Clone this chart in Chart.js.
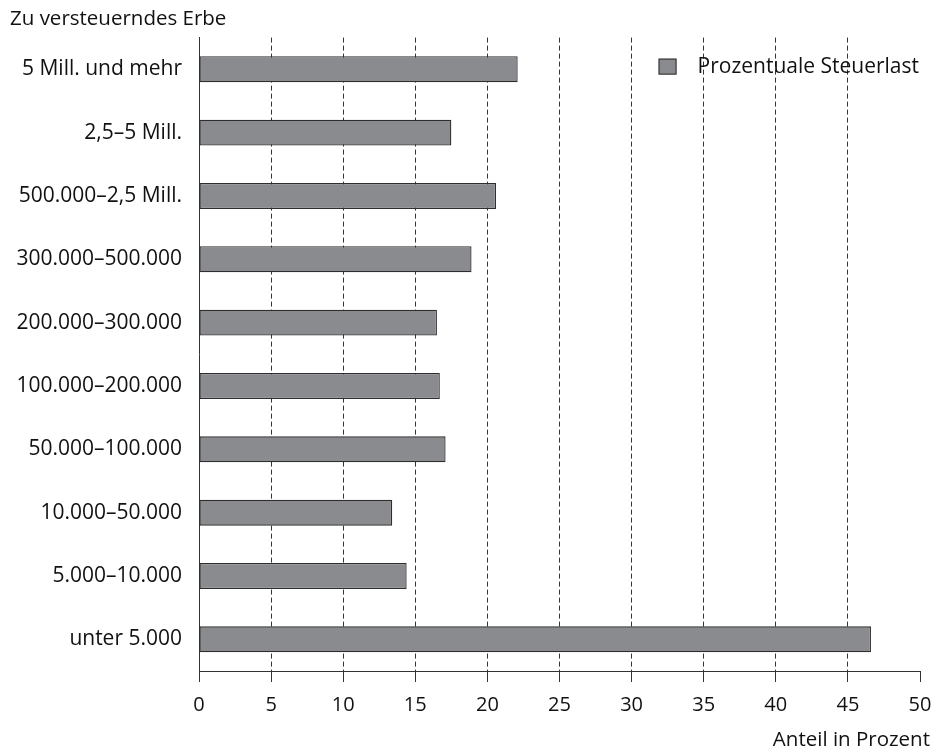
<!DOCTYPE html>
<html>
<head>
<meta charset="utf-8">
<script src="https://cdn.jsdelivr.net/npm/chart.js@4"></script>
<style>
  html, body { margin: 0; padding: 0; background: #fff; }
  #wrap { width: 935px; height: 752px; }
</style>
</head>
<body>
<div id="wrap"><canvas id="c" width="935" height="752"></canvas></div>
<script>
const categories = [
  "5 Mill. und mehr",
  "2,5–5 Mill.",
  "500.000–2,5 Mill.",
  "300.000–500.000",
  "200.000–300.000",
  "100.000–200.000",
  "50.000–100.000",
  "10.000–50.000",
  "5.000–10.000",
  "unter 5.000"
];
const steuerlast = [22.1, 17.5, 20.6, 18.9, 16.5, 16.7, 17.1, 13.4, 14.4, 46.6];
const seriesName = "Prozentuale Steuerlast";
const yTitle = "Zu versteuerndes Erbe";
const xTitle = "Anteil in Prozent";
const xMin = 0, xMax = 50, xStep = 5;

const FONT = "'Open Sans', 'Noto Sans', sans-serif";
const INK = "#111111";

const legendPlugin = {
  id: 'insideLegend',
  afterDraw(chart) {
    const ctx = chart.ctx;
    const ds = chart.data.datasets[0];
    const area = chart.chartArea;
    ctx.save();
    ctx.font = "21px " + FONT;
    ctx.textBaseline = 'middle';
    ctx.textAlign = 'right';
    const right = area.right - 1;
    const cy = area.top + 29;
    const tw = ctx.measureText(ds.label).width;
    ctx.fillStyle = INK;
    ctx.fillText(ds.label, right, cy);
    const bx = right - tw - 21 - 18;
    ctx.fillStyle = ds.backgroundColor;
    ctx.fillRect(bx, cy - 8, 18, 16);
    ctx.strokeStyle = ds.borderColor;
    ctx.lineWidth = 1;
    ctx.strokeRect(bx + 0.5, cy - 8 + 0.5, 17, 15);
    ctx.restore();
  }
};

const xTitlePlugin = {
  id: 'xTitleRight',
  afterDraw(chart) {
    const ctx = chart.ctx;
    ctx.save();
    ctx.font = "20.5px " + FONT;
    ctx.fillStyle = INK;
    ctx.textAlign = 'right';
    ctx.textBaseline = 'middle';
    ctx.fillText(xTitle, chart.width - 5, 740);
    ctx.restore();
  }
};

new Chart(document.getElementById('c'), {
  type: 'bar',
  data: {
    labels: categories,
    datasets: [{
      label: seriesName,
      data: steuerlast,
      backgroundColor: '#8a8b8f',
      borderColor: '#2e2e2e',
      borderWidth: 1.3,
      borderSkipped: false,
      barPercentage: 0.41,
      categoryPercentage: 1.0
    }]
  },
  options: {
    indexAxis: 'y',
    responsive: false,
    animation: false,
    devicePixelRatio: 1,
    layout: { padding: { left: 10, right: 15, top: 0, bottom: 0 } },
    plugins: {
      legend: { display: false },
      tooltip: { enabled: false },
      title: {
        display: true,
        text: yTitle,
        align: 'start',
        color: INK,
        font: { family: FONT, size: 20.5, weight: 'normal', lineHeight: 1.2 },
        padding: { top: 7, bottom: 6 }
      }
    },
    scales: {
      x: {
        type: 'linear',
        min: xMin,
        max: xMax,
        ticks: {
          stepSize: xStep,
          color: INK,
          padding: 11,
          font: { family: FONT, size: 20, lineHeight: 1.2 }
        },
        grid: {
          color: (c) => (c.tick && (c.tick.value === xMin || c.tick.value === xMax)) ? 'rgba(0,0,0,0)' : '#333333',
          tickColor: '#333333',
          tickLength: 11,
          tickBorderDash: [],
          lineWidth: 1
        },
        border: { display: true, color: '#333333', width: 1, dash: [5, 3] },
        afterFit(scale) {
          scale.height = 81;
          scale.paddingLeft = 0;
          scale.paddingRight = 0;
        }
      },
      y: {
        type: 'category',
        ticks: {
          color: INK,
          padding: 17,
          font: { family: FONT, size: 21 }
        },
        grid: { display: false, drawTicks: false },
        border: { display: true, color: '#333333', width: 1 },
        afterFit(scale) { scale.width = 189; }
      }
    }
  },
  plugins: [legendPlugin, xTitlePlugin]
});
</script>
</body>
</html>
